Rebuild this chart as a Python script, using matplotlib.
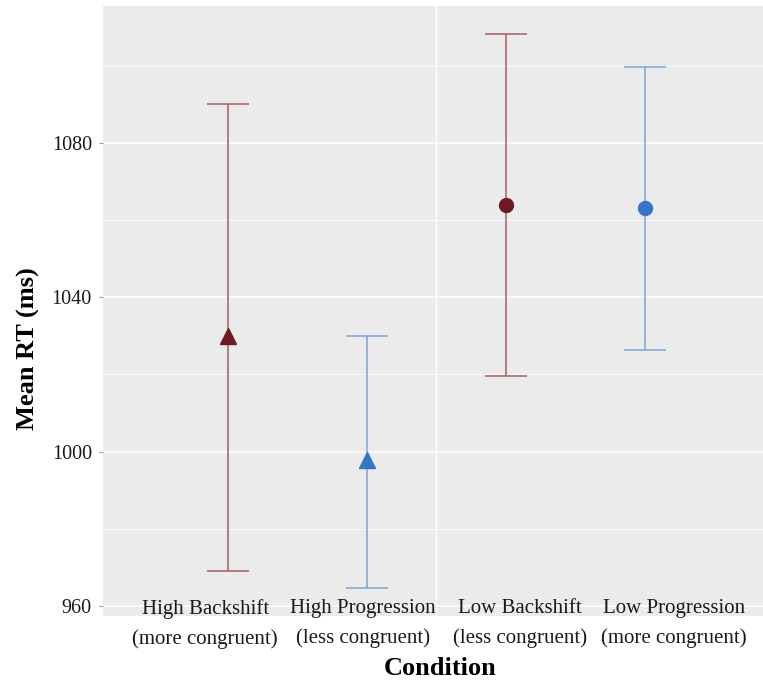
import matplotlib.pyplot as plt
from matplotlib.ticker import MultipleLocator

conditions = ["High Backshift\n(more congruent)", "High Progression\n(less congruent)",
              "Low Backshift\n(less congruent)", "Low Progression\n(more congruent)"]
label_pos = [0.835, 1.97, 3.10, 4.21]  # labels sit off the points in the original
means = [1030.0, 997.8, 1063.9, 1063.2]
upper = [1090.1, 1030.0, 1108.3, 1099.7]
lower = [969.0, 964.7, 1019.6, 1026.3]
markers = ["^", "^", "o", "o"]
point_colors = ["#6e1a20", "#3474c9", "#6e1a20", "#3474c9"]
bar_colors = ["#a85a63", "#7ea4d8", "#a85a63", "#7ea4d8"]

plt.rcParams["font.family"] = ["Liberation Serif", "DejaVu Serif"]

fig = plt.figure(figsize=(7.63, 6.84), dpi=100)
ax = fig.add_axes([0.135, 0.0994, 0.865, 0.8918])
ax.set_facecolor("#ebebeb")
for s in ax.spines.values():
    s.set_visible(False)

ax.yaxis.set_major_locator(MultipleLocator(40))
ax.yaxis.set_minor_locator(MultipleLocator(20))
ax.grid(which="major", axis="y", color="white", linewidth=1.1)
ax.grid(which="minor", axis="y", color="white", linewidth=0.5)
ax.axvline(2.5, color="white", linewidth=1.0, zorder=0.5)
ax.set_axisbelow(True)
ax.xaxis.set_zorder(1.0)  # x labels above the y grid

for i in range(4):
    x = i + 1
    ax.errorbar([x], [means[i]], yerr=[[means[i] - lower[i]], [upper[i] - means[i]]],
                fmt="none", ecolor=bar_colors[i], elinewidth=1.1, capsize=15, capthick=1.1, zorder=2)
    ax.plot([x], [means[i]], marker=markers[i], color=point_colors[i],
            markersize=12 if markers[i] == "^" else 10, linestyle="none", zorder=3)

ax.set_xlim(0.1, 4.85)
ax.set_ylim(957.4, 1115.5)
ax.set_xticks(label_pos)
ax.set_xticklabels(conditions, fontsize=15, linespacing=1.7, color="#1a1a1a")
ax.set_yticks([960, 1000, 1040, 1080])
ax.tick_params(axis="x", length=0, pad=-12)
ax.tick_params(axis="y", which="major", length=3, color="#999999", labelsize=14.5, labelcolor="#1a1a1a", pad=5)
ax.tick_params(axis="y", which="minor", length=0)

fig.text(0.577, 0.022, "Condition", fontsize=19, fontweight="bold", ha="center", va="center")
fig.text(0.037, 0.491, "Mean RT (ms)", fontsize=19, fontweight="bold", ha="center", va="center", rotation=90)

fig.savefig("out.png", dpi=100)
